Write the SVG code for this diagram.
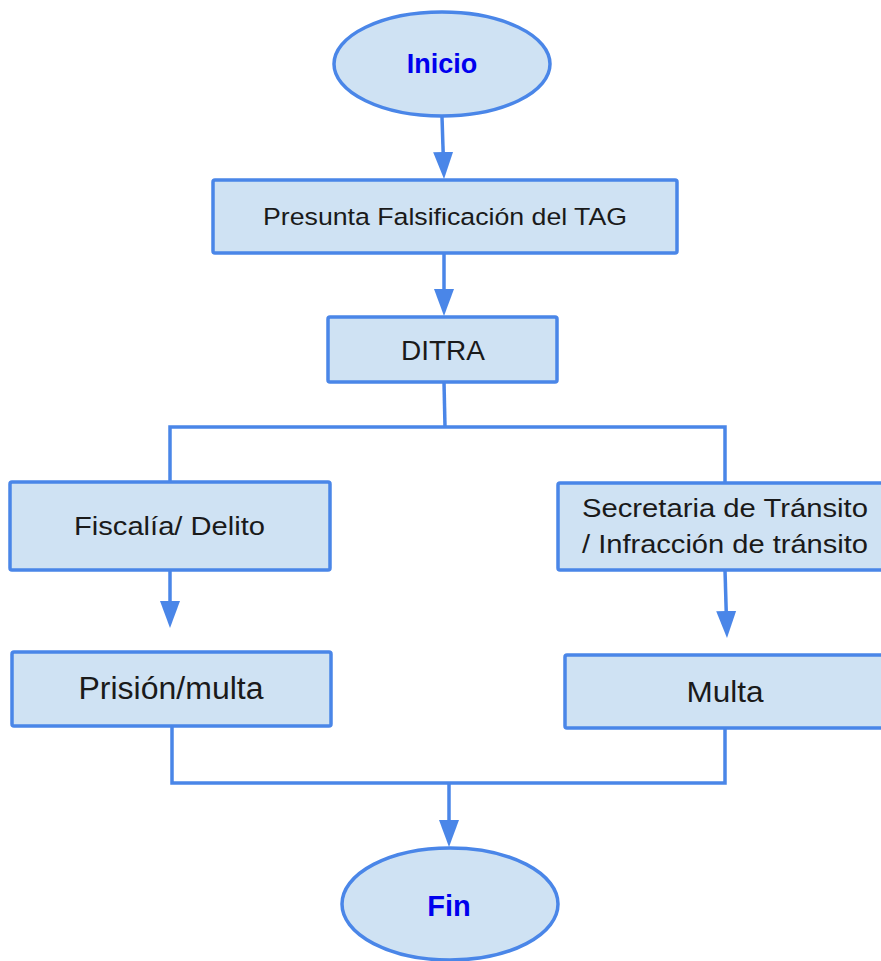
<svg xmlns="http://www.w3.org/2000/svg" width="881" height="961" viewBox="0 0 881 961">
<style>
.box{fill:#cfe2f3;stroke:#4a86e8;stroke-width:3.5}
.ln{fill:none;stroke:#4a86e8;stroke-width:3.5}
.t{font-family:"Liberation Sans",Arial,sans-serif;fill:#1a1a1a;text-anchor:middle}
.tb{font-family:"Liberation Sans",Arial,sans-serif;fill:#0000ee;font-weight:bold;text-anchor:middle}
</style>
<defs>
<marker id="ah" markerUnits="userSpaceOnUse" markerWidth="27" markerHeight="22" refX="17" refY="11" orient="auto">
<path d="M0,1 L27,11 L0,21 z" fill="#4a86e8"/>
</marker>
</defs>
<rect width="881" height="961" fill="#ffffff"/>
<g id="connectors">
<path class="ln" d="M442,117 L443.7,169" marker-end="url(#ah)"/>
<path class="ln" d="M444,253 L444,306" marker-end="url(#ah)"/>
<path class="ln" d="M444,382 L445,427"/>
<path class="ln" d="M170,482 L170,427 L725,427 L725,483"/>
<path class="ln" d="M170,570 L170,618" marker-end="url(#ah)"/>
<path class="ln" d="M725,570 L726.7,628" marker-end="url(#ah)"/>
<path class="ln" d="M172,726 L172,783 L725,783 L725,728"/>
<path class="ln" d="M449,783 L449,837" marker-end="url(#ah)"/>
</g>
<g id="inicio">
<ellipse class="box" cx="442" cy="64" rx="108" ry="52"/>
<text class="tb" x="442" y="73" font-size="27">Inicio</text>
</g>
<g id="presunta">
<rect class="box" x="213" y="180" width="464" height="73" rx="2"/>
<text class="t" x="445" y="225" font-size="24.5" textLength="364" lengthAdjust="spacingAndGlyphs">Presunta Falsificación del TAG</text>
</g>
<g id="ditra">
<rect class="box" x="328" y="317" width="229" height="65" rx="2"/>
<text class="t" x="443" y="360" font-size="28">DITRA</text>
</g>
<g id="fiscalia">
<rect class="box" x="10" y="482" width="320" height="88" rx="2"/>
<text class="t" x="169.5" y="535" font-size="25" textLength="191" lengthAdjust="spacingAndGlyphs">Fiscalía/ Delito</text>
</g>
<g id="secretaria">
<rect class="box" x="558" y="483" width="340" height="87" rx="2"/>
<text class="t" x="725" y="517" font-size="25" textLength="286" lengthAdjust="spacingAndGlyphs">Secretaria de Tránsito</text>
<text class="t" x="725" y="553" font-size="25" textLength="286" lengthAdjust="spacingAndGlyphs">/ Infracción de tránsito</text>
</g>
<g id="prision">
<rect class="box" x="12" y="652" width="319" height="74" rx="2"/>
<text class="t" x="171" y="699" font-size="31" textLength="185" lengthAdjust="spacingAndGlyphs">Prisión/multa</text>
</g>
<g id="multa">
<rect class="box" x="565" y="655" width="330" height="73" rx="2"/>
<text class="t" x="725" y="702" font-size="30" textLength="77" lengthAdjust="spacingAndGlyphs">Multa</text>
</g>
<g id="fin">
<ellipse class="box" cx="450" cy="904" rx="108" ry="56"/>
<text class="tb" x="449" y="916" font-size="29">Fin</text>
</g>
</svg>
